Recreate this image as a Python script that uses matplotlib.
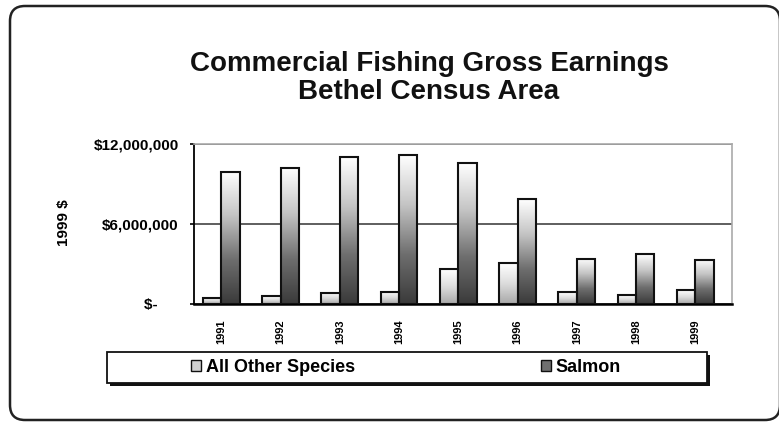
import numpy as np
import matplotlib
matplotlib.use("Agg")
import matplotlib.pyplot as plt
from matplotlib.colors import LinearSegmentedColormap
from matplotlib.patches import FancyBboxPatch, Rectangle, Patch
from matplotlib.transforms import IdentityTransform
from matplotlib.ticker import FuncFormatter

plt.rcParams['font.family'] = ['Liberation Sans', 'DejaVu Sans']
plt.rcParams['font.weight'] = 'bold'

# data ($ millions)
years = ['1991', '1992', '1993', '1994', '1995', '1996', '1997', '1998', '1999']
other_species = [0.47, 0.60, 0.85, 0.92, 2.60, 3.05, 0.88, 0.65, 1.03]
salmon = [9.91, 10.17, 11.0, 11.17, 10.57, 7.85, 3.40, 3.75, 3.32]
yticks = [0, 6e6, 12e6]

W, H = 779, 425
fig = plt.figure(figsize=(W / 100, H / 100), dpi=100)
fig.patch.set_facecolor('white')

# rounded outer frame (pixel coords)
frame = FancyBboxPatch((10, 5), 770, 414, boxstyle="round,pad=0,rounding_size=15",
                       transform=IdentityTransform(), facecolor='none',
                       edgecolor='#222222', linewidth=1.8)
fig.add_artist(frame)

fig.text(429 / W, (H - 78) / H, 'Commercial Fishing Gross Earnings\nBethel Census Area',
         ha='center', va='center', fontsize=20, fontweight='bold', linespacing=1.12,
         color='#111111')

ax = fig.add_axes([194 / W, 121 / H, 538 / W, 160 / H])

x = np.arange(len(years))
bw = 0.31
vals_o = np.array(other_species) * 1e6
vals_s = np.array(salmon) * 1e6
bars_o = ax.bar(x - bw / 2, vals_o, bw, facecolor='none', edgecolor='#111111', lw=1.5, zorder=3)
bars_s = ax.bar(x + bw / 2, vals_s, bw, facecolor='none', edgecolor='#111111', lw=1.5, zorder=3)

cm_o = LinearSegmentedColormap.from_list('o', ['#a8a8a8', '#dcdcdc', '#ffffff'])
cm_s = LinearSegmentedColormap.from_list('s', ['#3a3a3a', '#6e6e6e', '#c4c4c4', '#ffffff'])
grad = np.linspace(0, 1, 256).reshape(-1, 1)
for bars, cm in ((bars_o, cm_o), (bars_s, cm_s)):
    for b in bars:
        bx, by, bwid, bh = b.get_x(), b.get_y(), b.get_width(), b.get_height()
        ax.imshow(grad, cmap=cm, aspect='auto', origin='lower',
                  extent=[bx, bx + bwid, by, by + bh], zorder=2)

ax.set_xlim(-0.46, 8.62)
ax.set_ylim(0, 12e6)
ax.set_yticks(yticks)
ax.yaxis.set_major_formatter(FuncFormatter(lambda v, p: '$-     ' if v == 0 else f'${v:,.0f}'))
ax.set_xticks(x)
ax.set_xticklabels(years, rotation=90)
ax.tick_params(axis='y', length=3, pad=8, labelsize=11, width=1.2)
ax.tick_params(axis='x', length=0, pad=11, labelsize=8)

ax.grid(axis='y', color='#333333', lw=1.1)
ax.set_axisbelow(True)
for s in ('top', 'right'):
    ax.spines[s].set_color('#aaaaaa')
    ax.spines[s].set_linewidth(1.2)
ax.spines['left'].set_linewidth(1.3)
ax.spines['bottom'].set_linewidth(1.8)

fig.text(64 / W, (H - 223) / H, '1999 $', rotation=90, ha='center', va='center',
         fontsize=11, fontweight='bold')

# legend box with shadow (pixel coords)
fig.add_artist(Rectangle((110, 39), 600, 31, transform=IdentityTransform(),
                         facecolor='#111111', edgecolor='none', zorder=1))
fig.add_artist(Rectangle((107, 42), 600, 31, transform=IdentityTransform(),
                         facecolor='white', edgecolor='#111111', lw=1.3, zorder=2))
handles = [Patch(facecolor='#d0d0d0', edgecolor='#111111', lw=1),
           Patch(facecolor='#707070', edgecolor='#111111', lw=1)]
leg = fig.legend(handles, ['All Other Species', 'Salmon'], loc='center',
                 bbox_to_anchor=(406 / W, (H - 367.5) / H), ncol=2, frameon=False,
                 handlelength=0.55, handleheight=0.55, handletextpad=0.25,
                 columnspacing=10.3, prop={'size': 13, 'weight': 'bold'})
leg.set_zorder(5)

fig.savefig('out.png', dpi=100)
